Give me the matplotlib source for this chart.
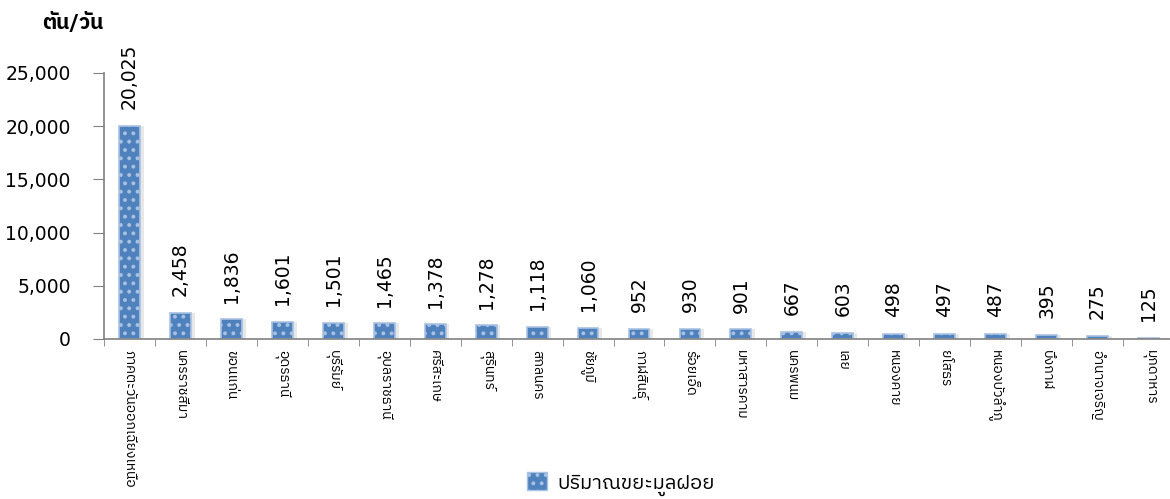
import numpy as np
import matplotlib
matplotlib.use("Agg")
import matplotlib.pyplot as plt
from matplotlib import font_manager
from matplotlib.ft2font import FT2Font
from matplotlib.patches import Patch

# ข้อมูล
provinces = ["ภาคตะวันออกเฉียงเหนือ", "นครราชสีมา", "ขอนแก่น", "อุดรธานี", "บุรีรัมย์",
             "อุบลราชธานี", "ศรีสะเกษ", "สุรินทร์", "สกลนคร", "ชัยภูมิ", "กาฬสินธุ์",
             "ร้อยเอ็ด", "มหาสารคาม", "นครพนม", "เลย", "หนองคาย", "ยโสธร",
             "หนองบัวลำภู", "บึงกาฬ", "อำนาจเจริญ", "มุกดาหาร"]
waste = [20025, 2458, 1836, 1601, 1501, 1465, 1378, 1278, 1118, 1060, 952,
         930, 901, 667, 603, 498, 497, 487, 395, 275, 125]
yticks = [0, 5000, 10000, 15000, 20000, 25000]
series_name = "ปริมาณขยะมูลฝอย"
unit = "ตัน/วัน"


def find_thai_font():
    found = []
    for f in font_manager.fontManager.ttflist:
        try:
            ft = FT2Font(f.fname)
            if 0x0E01 in ft.get_charmap():
                found.append(f.name)
        except Exception:
            pass
    for name in found:
        if "Thai" in name:
            return name
    return found[0] if found else None


thai = find_thai_font()
fams = [thai, "DejaVu Sans"] if thai else ["DejaVu Sans"]
plt.rcParams["font.family"] = fams

fig = plt.figure(figsize=(11.7, 4.99), dpi=100)
W, H = 1170, 499
x0, x1, ytop, ybot = 104, 1174, 73, 339
ax = fig.add_axes([x0 / W, (H - ybot) / H, (x1 - x0) / W, (ybot - ytop) / H])

x = np.arange(len(provinces))
blue = "#4F81BD"
plt.rcParams["hatch.color"] = "white"
plt.rcParams["hatch.linewidth"] = 1.6

# เงา
ax.bar(x + 0.07, waste, width=0.42, color="#d9d9d9", alpha=0.6, zorder=1)
bars = ax.bar(x, waste, width=0.41, color=blue, edgecolor="#a9c1e3",
              linewidth=1.2, hatch="..", zorder=2)

for xi, v in zip(x, waste):
    ax.annotate(f"{v:,}", (xi, v), xytext=(0, 12), textcoords="offset points",
                rotation=90, ha="center", va="bottom", fontsize=13.5,
                family="DejaVu Sans")

ax.set_xlim(-0.5, len(provinces) - 0.5)
ax.set_ylim(0, 25000)
ax.set_yticks(yticks)
ax.set_yticklabels([f"{t:,}" for t in yticks], fontsize=13.5, family="DejaVu Sans")
ax.set_xticks(x)
ax.set_xticklabels(provinces, rotation=270, fontsize=10, va="top")
ax.set_xticks(np.arange(-0.5, len(provinces)), minor=True)
ax.tick_params(axis="x", which="major", length=0, pad=8)
ax.tick_params(axis="x", which="minor", length=5, color="#808080")
ax.tick_params(axis="y", length=8, color="#808080", pad=16)

for s in ["top", "right"]:
    ax.spines[s].set_visible(False)
for s in ["left", "bottom"]:
    ax.spines[s].set_color("#808080")
    ax.spines[s].set_linewidth(1.2)

fig.text(42 / W, 1 - 22 / H, unit, fontsize=15, fontweight="bold", va="center", ha="left")

handle = Patch(facecolor=blue, edgecolor="#a9c1e3", hatch="..")
fig.legend([handle], [series_name], loc="center", bbox_to_anchor=(621 / W, 1 - 484 / H),
           frameon=False, fontsize=14.5, handlelength=1.0, handleheight=1.0,
           handletextpad=0.5)

fig.savefig("out.png", dpi=100)
